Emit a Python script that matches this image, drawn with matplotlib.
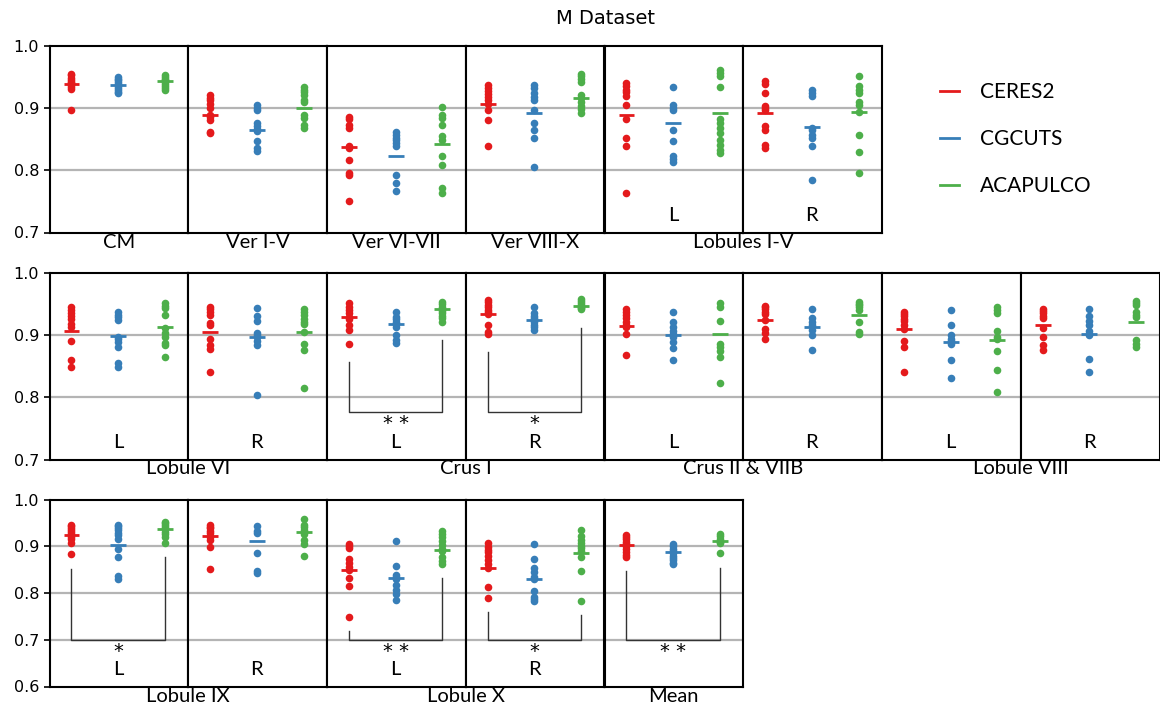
import numpy as np
import matplotlib
matplotlib.use("Agg")
import matplotlib.pyplot as plt
from matplotlib.lines import Line2D

# ---------------- data ----------------
panels = ["CM", "Ver I-V", "Ver VI-VII", "Ver VIII-X",
          "Lobules I-V L", "Lobules I-V R",
          "Lobule VI L", "Lobule VI R", "Crus I L", "Crus I R",
          "Crus II & VIIB L", "Crus II & VIIB R", "Lobule VIII L", "Lobule VIII R",
          "Lobule IX L", "Lobule IX R", "Lobule X L", "Lobule X R", "Mean"]
sides = ["", "", "", "", "L", "R", "L", "R", "L", "R", "L", "R", "L", "R",
         "L", "R", "L", "R", ""]
row_sizes = [6, 8, 5]

methods = ["CERES2", "CGCUTS", "ACAPULCO"]
colors = ["#e41a1c", "#377eb8", "#4daf4a"]

ceres2 = [
    [0.955, 0.952, 0.948, 0.945, 0.942, 0.94, 0.937, 0.933, 0.93, 0.897],
    [0.92, 0.916, 0.912, 0.906, 0.9, 0.888, 0.885, 0.881, 0.862, 0.859],
    [0.886, 0.882, 0.872, 0.868, 0.838, 0.836, 0.816, 0.796, 0.793, 0.75],
    [0.937, 0.932, 0.927, 0.922, 0.917, 0.912, 0.906, 0.896, 0.88, 0.839],
    [0.94, 0.935, 0.929, 0.925, 0.919, 0.904, 0.882, 0.852, 0.839, 0.764],
    [0.943, 0.938, 0.924, 0.903, 0.9, 0.897, 0.871, 0.864, 0.841, 0.836],
    [0.944, 0.94, 0.935, 0.93, 0.925, 0.917, 0.913, 0.89, 0.859, 0.848],
    [0.944, 0.941, 0.937, 0.932, 0.919, 0.915, 0.894, 0.883, 0.878, 0.84],
    [0.951, 0.945, 0.94, 0.935, 0.929, 0.925, 0.916, 0.908, 0.885],
    [0.956, 0.952, 0.948, 0.944, 0.94, 0.936, 0.933, 0.916, 0.905, 0.901],
    [0.941, 0.936, 0.932, 0.927, 0.921, 0.916, 0.912, 0.901, 0.867],
    [0.947, 0.944, 0.941, 0.937, 0.933, 0.924, 0.91, 0.903, 0.894],
    [0.937, 0.934, 0.93, 0.926, 0.922, 0.915, 0.91, 0.89, 0.881, 0.84],
    [0.941, 0.938, 0.935, 0.931, 0.927, 0.911, 0.896, 0.884, 0.876],
    [0.946, 0.943, 0.939, 0.934, 0.93, 0.926, 0.92, 0.916, 0.907, 0.883],
    [0.945, 0.942, 0.938, 0.933, 0.928, 0.92, 0.913, 0.899, 0.851],
    [0.904, 0.9, 0.897, 0.872, 0.864, 0.856, 0.85, 0.833, 0.815, 0.749],
    [0.907, 0.899, 0.893, 0.888, 0.879, 0.87, 0.862, 0.854, 0.813, 0.79],
    [0.925, 0.92, 0.915, 0.91, 0.905, 0.9, 0.895, 0.888, 0.882, 0.876],
]
cgcuts = [
    [0.95, 0.947, 0.944, 0.941, 0.938, 0.935, 0.932, 0.929, 0.926, 0.924],
    [0.904, 0.9, 0.897, 0.876, 0.871, 0.866, 0.863, 0.846, 0.836, 0.83],
    [0.862, 0.857, 0.852, 0.848, 0.843, 0.838, 0.793, 0.78, 0.767],
    [0.937, 0.932, 0.924, 0.918, 0.913, 0.896, 0.875, 0.865, 0.852, 0.805],
    [0.934, 0.905, 0.9, 0.897, 0.864, 0.846, 0.823, 0.818, 0.813],
    [0.929, 0.924, 0.919, 0.868, 0.865, 0.857, 0.852, 0.839, 0.785],
    [0.936, 0.932, 0.928, 0.924, 0.897, 0.893, 0.888, 0.881, 0.855, 0.849],
    [0.943, 0.931, 0.922, 0.903, 0.9, 0.896, 0.89, 0.884, 0.804],
    [0.936, 0.929, 0.925, 0.921, 0.917, 0.913, 0.9, 0.892, 0.887],
    [0.944, 0.935, 0.93, 0.927, 0.924, 0.921, 0.916, 0.912, 0.908],
    [0.937, 0.92, 0.913, 0.906, 0.901, 0.897, 0.888, 0.879, 0.86],
    [0.941, 0.927, 0.921, 0.915, 0.908, 0.899, 0.876],
    [0.94, 0.916, 0.899, 0.894, 0.89, 0.885, 0.86, 0.831],
    [0.941, 0.931, 0.922, 0.915, 0.906, 0.902, 0.899, 0.862, 0.84],
    [0.946, 0.943, 0.939, 0.934, 0.929, 0.923, 0.916, 0.895, 0.877, 0.836, 0.829],
    [0.944, 0.933, 0.929, 0.886, 0.846, 0.842],
    [0.911, 0.857, 0.838, 0.835, 0.83, 0.817, 0.806, 0.798, 0.786],
    [0.904, 0.872, 0.854, 0.845, 0.835, 0.829, 0.805, 0.792, 0.787, 0.783],
    [0.905, 0.9, 0.895, 0.89, 0.885, 0.88, 0.875, 0.87, 0.865, 0.862],
]
acapulco = [
    [0.953, 0.95, 0.947, 0.945, 0.943, 0.941, 0.938, 0.935, 0.932, 0.929],
    [0.933, 0.928, 0.925, 0.92, 0.912, 0.909, 0.888, 0.884, 0.873, 0.867],
    [0.901, 0.888, 0.884, 0.873, 0.855, 0.849, 0.822, 0.809, 0.772, 0.763],
    [0.955, 0.951, 0.947, 0.941, 0.92, 0.915, 0.91, 0.903, 0.898, 0.892],
    [0.96, 0.956, 0.951, 0.934, 0.882, 0.876, 0.868, 0.859, 0.849, 0.841, 0.833, 0.828],
    [0.951, 0.935, 0.929, 0.924, 0.909, 0.904, 0.893, 0.856, 0.829, 0.795],
    [0.951, 0.946, 0.943, 0.932, 0.911, 0.903, 0.897, 0.887, 0.883, 0.864],
    [0.941, 0.937, 0.932, 0.926, 0.92, 0.917, 0.904, 0.885, 0.876, 0.815],
    [0.953, 0.95, 0.945, 0.942, 0.938, 0.935, 0.93, 0.927, 0.921],
    [0.957, 0.954, 0.951, 0.948, 0.945, 0.943, 0.941],
    [0.951, 0.944, 0.922, 0.885, 0.88, 0.874, 0.864, 0.823],
    [0.953, 0.95, 0.948, 0.944, 0.94, 0.921, 0.905, 0.901],
    [0.945, 0.94, 0.935, 0.906, 0.897, 0.893, 0.874, 0.843, 0.809],
    [0.954, 0.951, 0.948, 0.936, 0.932, 0.928, 0.892, 0.886, 0.881],
    [0.952, 0.949, 0.945, 0.941, 0.936, 0.931, 0.926, 0.92, 0.907],
    [0.959, 0.945, 0.941, 0.934, 0.93, 0.926, 0.913, 0.904, 0.879],
    [0.933, 0.926, 0.919, 0.911, 0.902, 0.894, 0.89, 0.876, 0.868, 0.862],
    [0.934, 0.921, 0.914, 0.907, 0.9, 0.897, 0.89, 0.876, 0.847, 0.783],
    [0.927, 0.922, 0.916, 0.912, 0.909, 0.906, 0.886],
]
mean_ceres2 = [0.938, 0.888, 0.837, 0.906, 0.889, 0.891, 0.906, 0.904, 0.929, 0.933,
               0.914, 0.924, 0.910, 0.916, 0.925, 0.921, 0.850, 0.854, 0.902]
mean_cgcuts = [0.937, 0.865, 0.822, 0.891, 0.876, 0.869, 0.898, 0.896, 0.918, 0.924,
               0.899, 0.912, 0.888, 0.902, 0.902, 0.911, 0.832, 0.829, 0.888]
mean_acapulco = [0.943, 0.900, 0.842, 0.916, 0.892, 0.893, 0.912, 0.905, 0.941, 0.947,
                 0.901, 0.932, 0.891, 0.921, 0.936, 0.931, 0.893, 0.886, 0.911]

# significance brackets: panel, left top, right top, bottom, stars
sig_panels = ["Crus I L", "Crus I R", "Lobule IX L", "Lobule X L", "Lobule X R", "Mean"]
sig_left = [0.856, 0.872, 0.852, 0.718, 0.759, 0.847]
sig_right = [0.891, 0.911, 0.877, 0.833, 0.753, 0.854]
sig_bottom = [0.776, 0.776, 0.700, 0.700, 0.700, 0.700]
sig_stars = ["* *", "*", "*", "* *", "*", "* *"]

# group labels under each row: (name, first panel, last panel)
group_names = ["CM", "Ver I-V", "Ver VI-VII", "Ver VIII-X", "Lobules I-V",
               "Lobule VI", "Crus I", "Crus II & VIIB", "Lobule VIII",
               "Lobule IX", "Lobule X", "Mean"]
group_first = [0, 1, 2, 3, 4, 6, 8, 10, 12, 14, 16, 18]
group_last = [0, 1, 2, 3, 5, 7, 9, 11, 13, 15, 17, 18]

# ---------------- layout ----------------
W, H = 1160, 710
fig = plt.figure(figsize=(W / 100, H / 100), dpi=100)
LABEL_FONT = ["Lato", "DejaVu Sans"]

left0 = 49.5
pw = 138.75
row_top = [45.5, 272.5, 499.5]
row_bot = [232.5, 459.5, 686.5]
row_ylim = [(0.7, 1.0), (0.7, 1.0), (0.6, 1.0)]
row_ticks = [[0.7, 0.8, 0.9, 1.0], [0.7, 0.8, 0.9, 1.0], [0.6, 0.7, 0.8, 0.9, 1.0]]

series = [ceres2, cgcuts, acapulco]
means = [mean_ceres2, mean_cgcuts, mean_acapulco]

axes = []
panel_row = []
for r, n in enumerate(row_sizes):
    for c in range(n):
        x0 = left0 + c * pw
        ax = fig.add_axes([x0 / W, 1 - row_bot[r] / H, pw / W, (row_bot[r] - row_top[r]) / H])
        ax.set_xlim(-0.47, 2.5)
        ax.set_ylim(*row_ylim[r])
        ax.set_yticks(row_ticks[r])
        for t in row_ticks[r][1:-1]:
            ax.axhline(t, color="#b4b4b4", lw=1.6, zorder=0)
        ax.set_xticks([])
        for s in ax.spines.values():
            s.set_linewidth(1.5)
            s.set_color("black")
        if c == 0:
            ax.set_yticklabels([f"{t:.1f}" for t in row_ticks[r]], fontsize=11.5,
                               family="DejaVu Sans")
            ax.tick_params(axis="y", length=4, width=1.2)
        else:
            ax.tick_params(axis="y", left=False, labelleft=False)
        axes.append(ax)
        panel_row.append(r)

for i, ax in enumerate(axes):
    for k in range(3):
        vals = series[k][i]
        ax.scatter(np.full(len(vals), k), vals, s=30, color=colors[k],
                   linewidths=0, zorder=3)
        ax.hlines(means[k][i], k - 0.17, k + 0.17, color=colors[k], lw=2.0, zorder=4)
    if sides[i]:
        ax.text(1, 0.09, sides[i], transform=ax.get_xaxis_transform(),
                ha="center", va="center", fontsize=14.5, family=LABEL_FONT)

for j, p in enumerate(sig_panels):
    ax = axes[panels.index(p)]
    ax.plot([0, 0, 2, 2], [sig_left[j], sig_bottom[j], sig_bottom[j], sig_right[j]],
            color="#333333", lw=1.0, zorder=2)
    r = panel_row[panels.index(p)]
    off = 0.019 if r < 2 else 0.025
    ax.text(1, sig_bottom[j] - off, sig_stars[j], ha="center", va="center",
            fontsize=14, family="DejaVu Sans")

# group labels
for g, name in enumerate(group_names):
    a = axes[group_first[g]]
    b = axes[group_last[g]]
    r = panel_row[group_first[g]]
    bb_a = a.get_position()
    bb_b = b.get_position()
    xc = (bb_a.x0 + bb_b.x1) / 2
    fig.text(xc, 1 - (row_bot[r] + 1.0) / H, name, ha="center", va="top",
             fontsize=14.5, family=LABEL_FONT)

fig.text(605 / W, 1 - 19 / H, "M Dataset", ha="center", va="center", fontsize=14,
         family="DejaVu Sans")

handles = [Line2D([], [], color=colors[k], lw=2) for k in range(3)]
fig.legend(handles, methods, loc="upper left", bbox_to_anchor=(940 / W, 1 - 82 / H),
           frameon=False, handlelength=0.9, handletextpad=1.0,
           labelspacing=1.3, borderpad=0, borderaxespad=0,
           prop={"family": LABEL_FONT, "size": 15})

fig.savefig("out.png", dpi=100)
